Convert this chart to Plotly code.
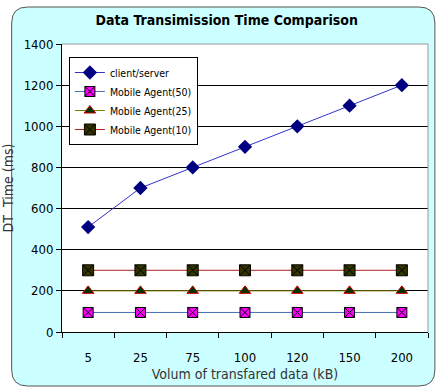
import plotly.graph_objects as go

categories = ["5", "25", "75", "100", "120", "150", "200"]
client_server = [510, 700, 800, 900, 1000, 1100, 1200]
agent_50 = [95, 95, 95, 95, 95, 95, 95]
agent_25 = [200, 200, 200, 200, 200, 200, 200]
agent_10 = [300, 300, 300, 300, 300, 300, 300]
y_ticks = [0, 200, 400, 600, 800, 1000, 1200, 1400]

W, H = 436, 389
L, R, T, B = 57, 8, 44, 57
PW = W - L - R
PH = H - T - B

def px(x):
    return (x - L) / PW

def py(y):
    return (H - B - y) / PH

FONT = "Liberation Sans Narrow, DejaVu Sans Condensed, Liberation Sans, Arial"

fig = go.Figure()
fig.add_trace(go.Scatter(
    x=categories, y=client_server, name="client/server", mode="lines+markers",
    line=dict(color="#3333cc", width=1),
    marker=dict(symbol="diamond", size=11, color="#000080")))
fig.add_trace(go.Scatter(
    x=categories, y=agent_50, name="Mobile Agent(50)", mode="lines+markers",
    line=dict(color="#4a6fb0", width=1),
    marker=dict(symbol="square-x", size=10, color="#ff00ff", line=dict(color="#000000", width=1))))
fig.add_trace(go.Scatter(
    x=categories, y=agent_25, name="Mobile Agent(25)", mode="lines+markers",
    line=dict(color="#808000", width=1),
    marker=dict(symbol="triangle-up", size=10, color="#003300", line=dict(color="#cc0000", width=1))))
fig.add_trace(go.Scatter(
    x=categories, y=agent_10, name="Mobile Agent(10)", mode="lines+markers",
    line=dict(color="#b22222", width=1),
    marker=dict(symbol="square-x", size=11, color="#333300", line=dict(color="#000000", width=1))))

# rounded background panel (pixel geometry -> paper coords)
x0, x1, y0, y1, r = 6, 435, 7, 386, 16
pts = (
    f"M {px(x0 + r)},{py(y0)} L {px(x1 - r)},{py(y0)} "
    f"Q {px(x1)},{py(y0)} {px(x1)},{py(y0 + r)} L {px(x1)},{py(y1 - r)} "
    f"Q {px(x1)},{py(y1)} {px(x1 - r)},{py(y1)} L {px(x0 + r)},{py(y1)} "
    f"Q {px(x0)},{py(y1)} {px(x0)},{py(y1 - r)} L {px(x0)},{py(y0 + r)} "
    f"Q {px(x0)},{py(y0)} {px(x0 + r)},{py(y0)} Z"
)
shapes = [
    dict(type="path", xref="paper", yref="paper", path=pts, fillcolor="#ccffff",
         line=dict(color="#555555", width=1), layer="below"),
    dict(type="rect", xref="paper", yref="paper", x0=0, x1=1, y0=0, y1=1,
         fillcolor="#ffffff", line=dict(width=0), layer="below"),
    dict(type="line", xref="paper", yref="paper", x0=0, x1=1, y0=1, y1=1,
         line=dict(color="#999999", width=1), layer="above"),
    dict(type="line", xref="paper", yref="paper", x0=1, x1=1, y0=0, y1=1,
         line=dict(color="#999999", width=1), layer="above"),
]

fig.update_layout(
    width=W, height=H,
    margin=dict(l=L, r=R, t=T, b=B),
    paper_bgcolor="#ffffff",
    plot_bgcolor="rgba(0,0,0,0)",
    font=dict(family=FONT, size=13, color="#000000"),
    title=dict(text="<b>Data Transimission Time Comparison</b>", x=0.52, xanchor="center",
               y=1 - 20 / H, yanchor="middle",
               font=dict(family="DejaVu Sans Condensed, Liberation Sans Narrow, Arial", size=14)),
    shapes=shapes,
    showlegend=True,
    legend=dict(x=px(64), y=py(57), xanchor="left", yanchor="top",
                bgcolor="#ffffff", bordercolor="#000000", borderwidth=1,
                font=dict(family=FONT, size=10.5), tracegroupgap=0, itemwidth=30),
    xaxis=dict(type="category", range=[-0.5, 6.5], tickson="boundaries",
               ticks="outside", ticklen=5, tickcolor="#000000",
               ticklabelstandoff=13,
               showline=True, linecolor="#000000", linewidth=1,
               showgrid=False, zeroline=False,
               title=dict(text="Volum of transfared data (kB)", standoff=5,
                          font=dict(size=14, color="#333333"))),
    yaxis=dict(range=[0, 1400], tickvals=y_ticks, ticks="outside", ticklen=5,
               tickcolor="#000000", showline=True, linecolor="#000000", linewidth=1,
               showgrid=True, gridcolor="#000000", gridwidth=1, zeroline=False,
               title=dict(text="DT  Time (ms)", standoff=6,
                          font=dict(size=14, color="#333333"))),
)

fig.write_html("out.html")
